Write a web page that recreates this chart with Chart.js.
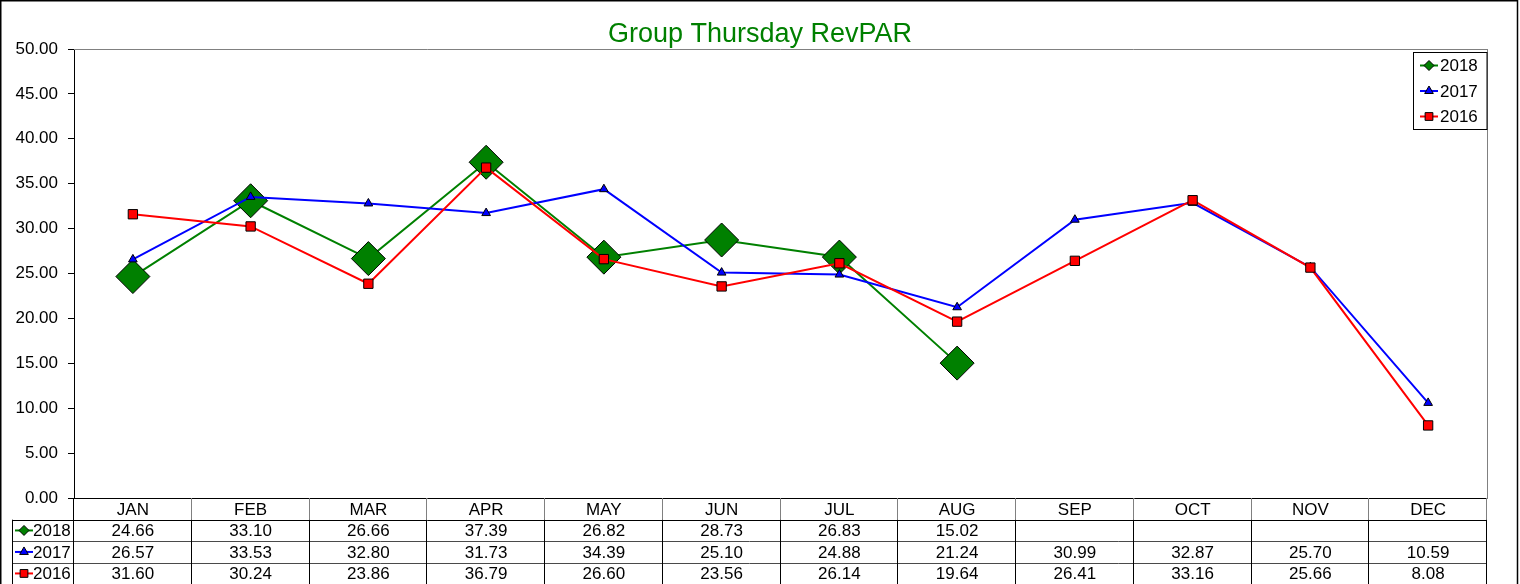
<!DOCTYPE html>
<html>
<head>
<meta charset="utf-8">
<title>Group Thursday RevPAR</title>
<script src="https://cdn.jsdelivr.net/npm/chart.js@4.4.0/dist/chart.umd.min.js"></script>
<style>
  html, body { margin: 0; padding: 0; background: #fff; overflow: hidden; }
  #graficoRevpar { display: block; }
</style>
</head>
<body>
<canvas id="graficoRevpar" width="1520" height="584"></canvas>
<script>
// Meses e valores de RevPAR por ano
const meses = ['JAN', 'FEB', 'MAR', 'APR', 'MAY', 'JUN', 'JUL', 'AUG', 'SEP', 'OCT', 'NOV', 'DEC'];
const valores2018 = [24.66, 33.10, 26.66, 37.39, 26.82, 28.73, 26.83, 15.02, null, null, null, null];
const valores2017 = [26.57, 33.53, 32.80, 31.73, 34.39, 25.10, 24.88, 21.24, 30.99, 32.87, 25.70, 10.59];
const valores2016 = [31.60, 30.24, 23.86, 36.79, 26.60, 23.56, 26.14, 19.64, 26.41, 33.16, 25.66, 8.08];
const marcasY = [0, 5, 10, 15, 20, 25, 30, 35, 40, 45, 50];

const fonte = 'Arial, "Liberation Sans", sans-serif';
const cinza = '#808080';

function chaveSerie(ctx, ds, x, y, raio) {
  // pequena linha com o marcador da série (legenda e tabela)
  ctx.save();
  ctx.strokeStyle = ds.borderColor;
  ctx.lineWidth = 2;
  ctx.beginPath();
  ctx.moveTo(x - 9, y);
  ctx.lineTo(x + 9, y);
  ctx.stroke();
  ctx.fillStyle = ds.pointBackgroundColor;
  ctx.strokeStyle = '#000';
  ctx.lineWidth = 1;
  Chart.helpers.drawPoint(ctx, { pointStyle: ds.pointStyle, radius: raio, rotation: 0, borderWidth: 1 }, x, y);
  ctx.restore();
}

const raiosChave = { rectRot: 5, triangle: 5, rect: 5.5 };

// Moldura, legenda interna e tabela de dados abaixo do gráfico
const tabelaPlugin = {
  id: 'tabelaDados',
  afterDraw(chart) {
    const { ctx, chartArea, scales } = chart;
    const eixoX = scales.x;
    const esq = chartArea.left;
    const dir = chartArea.right;
    const larguraCol = (dir - esq) / meses.length;
    const linhas = [chartArea.bottom, chartArea.bottom + 21.7];
    for (let i = 0; i < 3; i++) linhas.push(linhas[linhas.length - 1] + 21.5);

    ctx.save();

    // moldura externa
    ctx.strokeStyle = '#000';
    ctx.lineWidth = 1.5;
    ctx.beginPath();
    ctx.moveTo(0.75, 584);
    ctx.lineTo(0.75, 0.75);
    ctx.lineTo(1517.5, 0.75);
    ctx.lineTo(1517.5, 584);
    ctx.stroke();

    // borda superior da área do gráfico
    ctx.strokeStyle = cinza;
    ctx.lineWidth = 1;
    ctx.beginPath();
    ctx.moveTo(esq, Math.round(chartArea.top) + 0.5);
    ctx.lineTo(dir, Math.round(chartArea.top) + 0.5);
    ctx.stroke();

    // legenda
    const lx = 1413.5, ly = 52.5, lw = dir - 1413.5, lh = 77;
    ctx.fillStyle = '#fff';
    ctx.fillRect(lx, ly, lw, lh);
    ctx.strokeStyle = '#000';
    ctx.strokeRect(lx, ly, lw, lh);
    ctx.font = '17px ' + fonte;
    ctx.textBaseline = 'middle';
    ctx.textAlign = 'left';
    chart.data.datasets.forEach((ds, i) => {
      const yy = ly + 13 + i * 25.5;
      chaveSerie(ctx, ds, 1429, yy, raiosChave[ds.pointStyle]);
      ctx.fillStyle = '#000';
      ctx.fillText(ds.label, 1440, yy + 1);
    });

    // linhas horizontais da tabela
    ctx.lineWidth = 1;
    ctx.strokeStyle = '#000';
    ctx.beginPath();
    ctx.moveTo(esq, Math.round(linhas[1]) + 0.5);
    ctx.lineTo(12, Math.round(linhas[1]) + 0.5);
    ctx.moveTo(esq, Math.round(linhas[1]) + 0.5);
    ctx.lineTo(dir, Math.round(linhas[1]) + 0.5);
    ctx.stroke();
    ctx.strokeStyle = '#4a4a4a';
    ctx.beginPath();
    for (let r = 2; r < linhas.length; r++) {
      const yy = Math.round(linhas[r]) + 0.5;
      ctx.moveTo(12, yy);
      ctx.lineTo(dir, yy);
    }
    ctx.stroke();

    // divisórias verticais: cinza no cabeçalho, preto nas linhas de dados
    for (let k = 0; k <= meses.length; k++) {
      const xx = Math.round(esq + k * larguraCol) - 0.5;
      if (k > 0) {
        ctx.strokeStyle = cinza;
        ctx.beginPath();
        ctx.moveTo(xx, linhas[0]);
        ctx.lineTo(xx, linhas[1]);
        ctx.stroke();
      }
      ctx.strokeStyle = '#000';
      ctx.beginPath();
      ctx.moveTo(xx, k === 0 ? linhas[0] : linhas[1]);
      ctx.lineTo(xx, 584);
      ctx.stroke();
    }
    ctx.beginPath();
    ctx.moveTo(12.5, linhas[1]);
    ctx.lineTo(12.5, 584);
    ctx.stroke();

    // chaves das séries e valores
    ctx.font = '17px ' + fonte;
    chart.data.datasets.forEach((ds, i) => {
      const yy = (linhas[i + 1] + linhas[i + 2]) / 2;
      chaveSerie(ctx, ds, 24, yy, raiosChave[ds.pointStyle]);
      ctx.fillStyle = '#000';
      ctx.textAlign = 'left';
      ctx.fillText(ds.label, 33, yy + 1);
      ctx.textAlign = 'center';
      ds.data.forEach((v, j) => {
        if (v === null) return;
        ctx.fillText(v.toFixed(2), eixoX.getPixelForValue(j), yy + 1);
      });
    });

    ctx.restore();
  }
};

const ctx = document.getElementById('graficoRevpar').getContext('2d');

const dados = {
  labels: meses,
  datasets: [
    {
      label: '2018',
      data: valores2018,
      borderColor: '#008000',
      pointBackgroundColor: '#008000',
      pointStyle: 'rectRot',
      pointRadius: 17,
      order: 3
    },
    {
      label: '2017',
      data: valores2017,
      borderColor: '#0000ff',
      pointBackgroundColor: '#0000ff',
      pointStyle: 'triangle',
      pointRadius: 5,
      order: 2
    },
    {
      label: '2016',
      data: valores2016,
      borderColor: '#ff0000',
      pointBackgroundColor: '#ff0000',
      pointStyle: 'rect',
      pointRadius: 6.6,
      order: 1
    }
  ]
};

dados.datasets.forEach(ds => {
  ds.borderWidth = 2;
  ds.pointBorderColor = '#000';
  ds.pointBorderWidth = 1;
  ds.tension = 0;
  ds.spanGaps = false;
});

const config = {
  type: 'line',
  data: dados,
  options: {
    responsive: false,
    animation: false,
    devicePixelRatio: 1,
    layout: { padding: 0 },
    scales: {
      x: {
        type: 'category',
        offset: true,
        grid: { display: false, drawTicks: false },
        border: { display: true, color: '#000', width: 1 },
        ticks: {
          color: '#000',
          font: { family: fonte, size: 17 },
          padding: 2,
          maxRotation: 0,
          autoSkip: false
        },
        afterFit: (s) => { s.height = 86; }
      },
      y: {
        min: 0,
        max: 50,
        afterBuildTicks: (s) => { s.ticks = marcasY.map(v => ({ value: v })); },
        ticks: {
          callback: (v) => Number(v).toFixed(2),
          color: '#000',
          font: { family: fonte, size: 17 },
          padding: 10
        },
        grid: { drawOnChartArea: false, drawTicks: true, tickLength: 6, color: '#000' },
        border: { color: '#000', width: 1 },
        afterFit: (s) => { s.width = 74; }
      },
      yDir: {
        position: 'right',
        display: true,
        ticks: { display: false },
        grid: { display: false, drawTicks: false },
        border: { display: true, color: cinza, width: 1 },
        afterFit: (s) => { s.width = 33; }
      }
    },
    plugins: {
      legend: { display: false },
      tooltip: { enabled: false },
      title: {
        display: true,
        text: 'Group Thursday RevPAR',
        color: '#008000',
        font: { family: fonte, size: 27, weight: 'normal', lineHeight: 1 },
        padding: { top: 21, bottom: 1 }
      }
    }
  },
  plugins: [tabelaPlugin]
};

window._graficoRevpar = new Chart(ctx, config);
</script>
</body>
</html>
